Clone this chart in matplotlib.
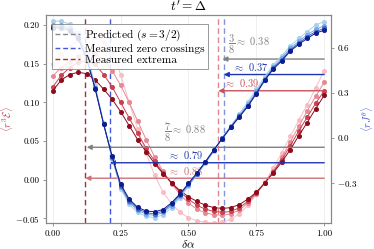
import numpy as np
import matplotlib
matplotlib.use("Agg")
import matplotlib.pyplot as plt

plt.rcParams["font.family"] = "serif"
plt.rcParams["font.serif"] = ["cmr10", "DejaVu Serif"]
plt.rcParams["mathtext.fontset"] = "cm"
plt.rcParams["axes.formatter.use_mathtext"] = True

# sample positions delta alpha = k/32
dalpha = [k / 32 for k in range(33)]

# <r^3 E>  (left axis), lightest to darkest
energy_lightpink = [0.150, 0.162, 0.172, 0.180, 0.185, 0.184, 0.178, 0.165, 0.136, 0.100, 0.066, 0.034,
                    0.006, -0.016, -0.031, -0.042, -0.049, -0.053, -0.055, -0.056, -0.055, -0.051, -0.044,
                    -0.033, -0.019, -0.003, 0.015, 0.035, 0.056, 0.077, 0.097, 0.119, 0.141]
energy_pink = [0.134, 0.145, 0.152, 0.160, 0.164, 0.163, 0.155, 0.141, 0.122, 0.100, 0.076, 0.052,
               0.030, 0.011, -0.005, -0.019, -0.030, -0.038, -0.043, -0.045, -0.046, -0.044, -0.039,
               -0.030, -0.018, -0.004, 0.011, 0.029, 0.049, 0.069, 0.089, 0.108, 0.126]
energy_red = [0.120, 0.135, 0.145, 0.152, 0.154, 0.149, 0.136, 0.120, 0.100, 0.080, 0.060, 0.041,
              0.024, 0.009, -0.004, -0.016, -0.025, -0.033, -0.038, -0.041, -0.042, -0.041, -0.036,
              -0.028, -0.017, -0.004, 0.010, 0.026, 0.044, 0.063, 0.081, 0.099, 0.115]
energy_darkred = [0.115, 0.129, 0.136, 0.139, 0.137, 0.129, 0.117, 0.104, 0.088, 0.070, 0.052, 0.036,
                  0.021, 0.008, -0.004, -0.014, -0.022, -0.028, -0.033, -0.036, -0.037, -0.036, -0.032,
                  -0.025, -0.016, -0.004, 0.009, 0.023, 0.039, 0.057, 0.074, 0.092, 0.109]

# <r J^theta>  (right axis), lightest to darkest
current_light = [0.780, 0.780, 0.760, 0.700, 0.560, 0.350, 0.100, -0.140, -0.340, -0.445, -0.500, -0.525,
                 -0.535, -0.515, -0.470, -0.400, -0.325, -0.250, -0.170, -0.090, 0.000, 0.080, 0.160,
                 0.240, 0.325, 0.410, 0.490, 0.550, 0.615, 0.665, 0.710, 0.755, 0.778]
current_mid = [0.755, 0.755, 0.735, 0.680, 0.540, 0.335, 0.090, -0.135, -0.330, -0.430, -0.485, -0.510,
               -0.520, -0.500, -0.455, -0.390, -0.315, -0.245, -0.165, -0.085, 0.000, 0.078, 0.150,
               0.225, 0.310, 0.395, 0.475, 0.535, 0.600, 0.645, 0.690, 0.725, 0.750]
current_blue = [0.745, 0.745, 0.725, 0.670, 0.530, 0.330, 0.090, -0.130, -0.320, -0.420, -0.475, -0.500,
                -0.510, -0.490, -0.445, -0.380, -0.310, -0.240, -0.160, -0.080, 0.000, 0.075, 0.144,
                0.215, 0.300, 0.389, 0.467, 0.522, 0.589, 0.633, 0.677, 0.710, 0.733]
current_navy = [0.735, 0.735, 0.715, 0.665, 0.525, 0.325, 0.090, -0.125, -0.310, -0.410, -0.465, -0.490,
                -0.495, -0.480, -0.435, -0.375, -0.305, -0.235, -0.160, -0.080, -0.005, 0.070, 0.140,
                0.210, 0.295, 0.385, 0.460, 0.515, 0.580, 0.625, 0.665, 0.700, 0.720]

# vertical markers
predicted = [1 / 8, 5 / 8]
zero_cross = [0.21, 0.63]
extrema = [0.12, 0.61]

red_cols = ["#f9bcc5", "#e58a95", "#c8414f", "#8e0b1c"]
blue_cols = ["#a6d1ee", "#7aa6e2", "#4068c8", "#0d1c8e"]

fig = plt.figure(figsize=(3.74, 2.49), dpi=100)
ax = fig.add_axes([0.123, 0.104, 0.762, 0.836])
ax2 = ax.twinx()

for ys, c in zip([energy_lightpink, energy_pink, energy_red, energy_darkred], red_cols):
    ax.plot(dalpha, ys, "-o", color=c, lw=0.7, ms=2.6, zorder=3)
for ys, c in zip([current_light, current_mid, current_blue, current_navy], blue_cols):
    ax2.plot(dalpha, ys, "-o", color=c, lw=0.7, ms=2.6, zorder=3)

dash = (0, (4, 2.5))
ax.axvline(extrema[0], color="#a3303d", ls=dash, lw=1.0, zorder=2)
ax.axvline(extrema[1], color="#e0848d", ls=dash, lw=1.0, zorder=2)
ax.axvline(zero_cross[0], color="#3d5bd8", ls=dash, lw=1.0, zorder=2)
ax.axvline(zero_cross[1], color="#8294dc", ls=dash, lw=1.0, zorder=2)

# arrows from delta alpha = 1
arrows = [
    (0.156, predicted[1], "#808080", r"$\dfrac{3}{8}\approx$ 0.38", 0.645, 0.004),
    (0.136, zero_cross[1], "#1f36b0", r"$\approx$ 0.37", 0.665, 0.002),
    (0.115, extrema[1], "#c9505c", r"$\approx$ 0.39", 0.632, 0.002),
    (0.042, predicted[0], "#808080", r"$\dfrac{7}{8}\approx$ 0.88", 0.41, 0.004),
    (0.022, zero_cross[0], "#1f36b0", r"$\approx$ 0.79", 0.425, 0.002),
    (0.002, extrema[0], "#d07079", r"$\approx$ 0.88", 0.425, 0.002),
]
for yv, xend, c, txt, xt, dy in arrows:
    ax.annotate("", xy=(xend, yv), xytext=(1.0, yv),
                arrowprops=dict(arrowstyle="-|>", color=c, lw=1.0, mutation_scale=7,
                                shrinkA=0, shrinkB=0), zorder=4)
    ax.text(xt, yv + dy, txt, color=c, fontsize=7.5, ha="left", va="bottom", zorder=4)

ax.set_xlim(-0.025, 1.025)
ax.set_ylim(-0.056, 0.213)
ax2.set_ylim(-0.571, 0.822)
ax.set_xticks([0.0, 0.25, 0.5, 0.75, 1.0])
ax.set_xticklabels(["0.00", "0.25", "0.50", "0.75", "1.00"])
ax.set_yticks([-0.05, 0.0, 0.05, 0.10, 0.15, 0.20])
ax.set_yticklabels(["$-0.05$", "0.00", "0.05", "0.10", "0.15", "0.20"])
ax2.set_yticks([-0.3, 0.0, 0.3, 0.6])
ax2.set_yticklabels(["$-0.3$", "0.0", "0.3", "0.6"])

ax.grid(axis="x", color="#ececec", lw=0.6)
ax.set_axisbelow(True)
for a in (ax, ax2):
    for s in a.spines.values():
        s.set_color("#888888")
        s.set_linewidth(0.8)
    a.tick_params(labelsize=6.5, length=2.5, width=0.6, color="#888888", pad=2)

ax.set_xlabel(r"$\delta\alpha$", fontsize=8.5, labelpad=0)
ax.set_ylabel(r"$\langle r^3\mathcal{E}\rangle$", fontsize=7.5, color="#c8414f")
ax2.set_ylabel(r"$\langle r J^{\theta}\rangle$", fontsize=7.5, color="#3d5bd8")
ax.yaxis.set_label_coords(-0.11, 0.5)
ax2.yaxis.set_label_coords(1.1, 0.5)
ax.set_title(r"$t' = \Delta$", fontsize=9.5, pad=3)

handles = [
    plt.Line2D([], [], color="#888888", ls=(0, (3.5, 2)), lw=1.0),
    plt.Line2D([], [], color="#3d5bd8", ls=(0, (3.5, 2)), lw=1.0),
    plt.Line2D([], [], color="#a3303d", ls=(0, (3.5, 2)), lw=1.0),
]
leg = ax2.legend(handles, [r"Predicted ($s = 3/2$)", "Measured zero crossings", "Measured extrema"],
                 loc="upper left", bbox_to_anchor=(0.02, 0.955), fontsize=8.2, handlelength=2.2,
                 handletextpad=0.4, borderpad=0.3, labelspacing=0.1, borderaxespad=0.0,
                 fancybox=False, edgecolor="#888888", framealpha=0.85)
leg.get_frame().set_linewidth(0.7)

fig.savefig("out.png", dpi=100)
